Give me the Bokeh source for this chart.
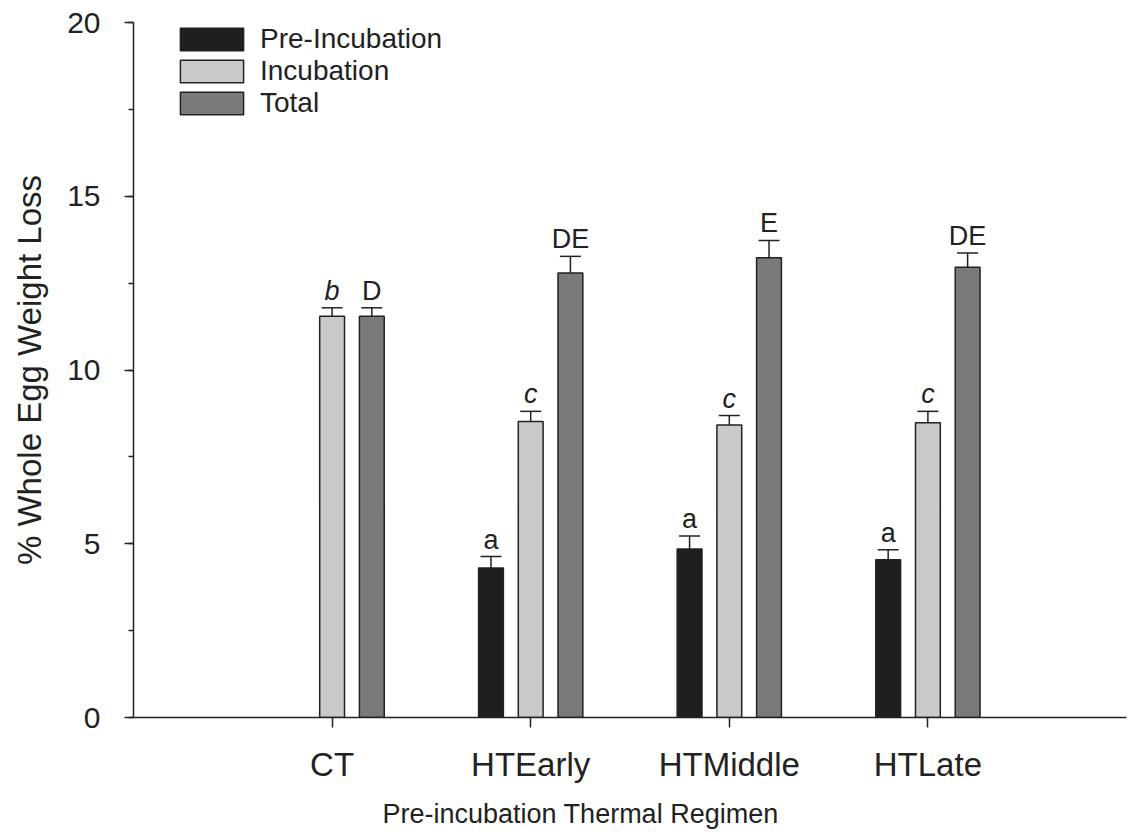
from bokeh.plotting import figure
from bokeh.models import (Range1d, FixedTicker, SingleIntervalTicker, ColumnDataSource,
                          Whisker, TeeHead, Legend, LegendItem, Title)
from bokeh.core.properties import value
from bokeh.embed import file_html
from bokeh.resources import INLINE

# ---- data ----
groups = ["CT", "HTEarly", "HTMiddle", "HTLate"]
pre_vals = [None, 4.30, 4.85, 4.54]
pre_errs = [None, 0.33, 0.37, 0.29]
inc_vals = [11.55, 8.52, 8.42, 8.48]
inc_errs = [0.24, 0.29, 0.27, 0.33]
tot_vals = [11.55, 12.79, 13.23, 12.96]
tot_errs = [0.24, 0.48, 0.50, 0.41]
pre_letters = ["", "a", "a", "a"]
inc_letters = ["b", "c", "c", "c"]
tot_letters = ["D", "DE", "E", "DE"]
series_names = ["Pre-Incubation", "Incubation", "Total"]
x_title = "Pre-incubation Thermal Regimen"
y_title = "% Whole Egg Weight Loss"

FONT = "Liberation Sans"
INK = "#222222"
colors = ["#1f1f1f", "#c9cacc", "#797a7c"]
offsets = [-0.2, 0.0, 0.2]
BW = 0.125

p = figure(width=1128, height=839, output_backend="svg", toolbar_location=None,
           x_range=Range1d(0, 5), y_range=Range1d(0, 20),
           min_border_left=133, min_border_right=2, min_border_top=22, min_border_bottom=122)
p.outline_line_color = None
p.xgrid.visible = False
p.ygrid.visible = False
p.background_fill_color = "white"

renderers = []
for si, (vals, errs, letters, col, off) in enumerate(zip(
        [pre_vals, inc_vals, tot_vals], [pre_errs, inc_errs, tot_errs],
        [pre_letters, inc_letters, tot_letters], colors, offsets)):
    xs, tops, ups, labs = [], [], [], []
    for gi, (v, e, l) in enumerate(zip(vals, errs, letters)):
        if v is None:
            continue
        xs.append(gi + 1 + off)
        tops.append(v)
        ups.append(v + e)
        labs.append(l)
    src = ColumnDataSource(dict(x=xs, top=tops, upper=ups, lab=labs))
    r = p.vbar(x="x", top="top", bottom=0, width=BW, source=src,
               fill_color=col, line_color=INK, line_width=1.5)
    renderers.append(r)
    w = Whisker(base="x", lower="top", upper="upper", source=src, dimension="height",
                line_color=INK, line_width=1.5, lower_head=None,
                upper_head=TeeHead(size=21, line_color=INK, line_width=1.5))
    p.add_layout(w)
    p.text(x="x", y="upper", text="lab", source=src, text_align="center",
           text_baseline="bottom", y_offset=-2,
           text_font=value(FONT), text_font_size="27px", text_color=INK,
           text_font_style="italic" if si == 1 else "normal")

# legend
items = [LegendItem(label=n, renderers=[r]) for n, r in zip(series_names, renderers)]
legend = Legend(items=items, location=(39, 598), orientation="vertical",
                glyph_width=79, glyph_height=28, label_height=22, label_standoff=9,
                spacing=-1, padding=0, margin=0, border_line_color=None,
                background_fill_alpha=0,
                label_text_font=FONT, label_text_font_size="28px",
                label_text_color=INK)
p.add_layout(legend)

# axes
p.xaxis.ticker = FixedTicker(ticks=[1, 2, 3, 4])
p.xaxis.major_label_overrides = {i + 1: g for i, g in enumerate(groups)}
p.xaxis.major_tick_in = 0
p.xaxis.major_tick_out = 10
p.xaxis.major_label_standoff = 18

p.add_layout(Title(text=x_title, align="left", offset=249, standoff=22,
                   text_font=FONT, text_font_size="27px", text_font_style="normal",
                   text_color=INK), "below")

p.yaxis.ticker = SingleIntervalTicker(interval=5, num_minor_ticks=2)
p.yaxis.major_tick_in = 0
p.yaxis.major_tick_out = 9
p.yaxis.minor_tick_in = 0
p.yaxis.minor_tick_out = 5
p.yaxis.major_label_standoff = 24
p.yaxis.axis_label = y_title
p.yaxis.axis_label_standoff = 16

for ax in (p.xaxis, p.yaxis):
    ax.axis_line_color = INK
    ax.axis_line_width = 1.5
    ax.major_tick_line_color = INK
    ax.major_tick_line_width = 1.5
    ax.minor_tick_line_width = 1.5
    ax.major_label_text_font = FONT
    ax.major_label_text_color = INK
    ax.axis_label_text_font = FONT
    ax.axis_label_text_font_style = "normal"
    ax.axis_label_text_color = INK

p.xaxis.minor_tick_line_color = None
p.yaxis.minor_tick_line_color = INK
p.xaxis.major_label_text_font_size = "33px"
p.yaxis.major_label_text_font_size = "30px"
p.yaxis.axis_label_text_font_size = "33px"

open("out.html", "w").write(file_html(p, INLINE))
